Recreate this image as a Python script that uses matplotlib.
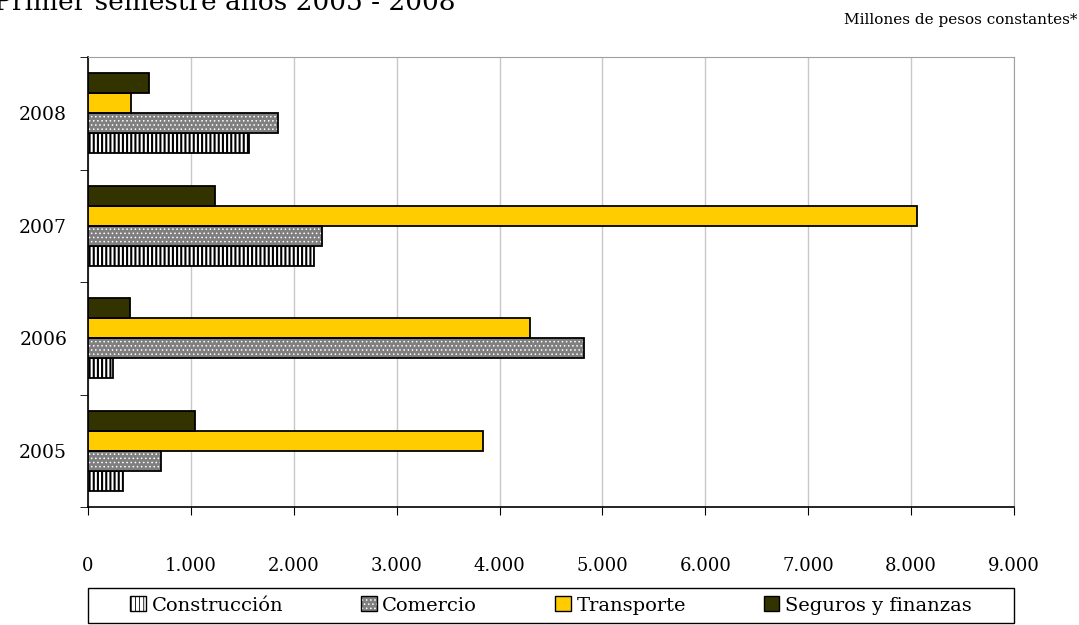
import numpy as np
import matplotlib
matplotlib.use("Agg")
import matplotlib.pyplot as plt
from matplotlib.patches import Patch
from matplotlib.legend_handler import HandlerTuple

plt.rcParams['font.family'] = ['DejaVu Serif']

years = ['2005', '2006', '2007', '2008']
series = ['Construcción', 'Comercio', 'Transporte', 'Seguros y finanzas']
construccion = [340, 245, 2195, 1560]
comercio = [710, 4820, 2275, 1850]
transporte = [3835, 4295, 8055, 418]
seguros = [1040, 408, 1234, 593]

fig = plt.figure(figsize=(10.79, 6.25), dpi=100)
ax = fig.add_axes([88 / 1079, 1 - 507 / 625, (1014 - 88) / 1079, (507 - 57) / 625])

y = np.arange(len(years))
h = 0.178
offs = [-1.5 * h, -0.5 * h, 0.5 * h, 1.5 * h]
grey = '#7f7f7f'

# construccion: vertical lines
plt.rcParams['hatch.linewidth'] = 1.5
ax.barh(y + offs[0], construccion, h, color='white', edgecolor='black', hatch='||||', lw=1.3, zorder=3)
h_con = Patch(facecolor='white', edgecolor='black', hatch='||||')
# comercio: grey with small white dots, then black outline
plt.rcParams['hatch.linewidth'] = 0.6
ax.barh(y + offs[1], comercio, h, color=grey, edgecolor='white', hatch='....', lw=0, zorder=3)
h_com = Patch(facecolor=grey, edgecolor='white', hatch='....', lw=0)
ax.barh(y + offs[1], comercio, h, fill=False, edgecolor='black', lw=1.3, zorder=4)
ax.barh(y + offs[2], transporte, h, color='#ffcc00', edgecolor='black', lw=1.3, zorder=3)
ax.barh(y + offs[3], seguros, h, color='#333300', edgecolor='black', lw=1.3, zorder=3)

ax.set_xlim(0, 9000)
ax.set_ylim(-0.5, 3.5)
ax.set_xticks(np.arange(0, 9001, 1000))
ax.set_xticklabels([f'{v:,}'.replace(',', '.') for v in range(0, 9001, 1000)], fontsize=13)
ax.set_yticks(y)
ax.set_yticklabels(years, fontsize=13.5)
ax.set_yticks(np.arange(-0.5, 3.6, 1), minor=True)
ax.tick_params(axis='y', which='major', length=0, pad=15)
ax.tick_params(axis='y', which='minor', length=6, direction='out')
ax.tick_params(axis='x', length=6, direction='out', pad=30)
ax.grid(axis='x', color='#c8c8c8', lw=1, zorder=0)
ax.spines['top'].set_color('#a0a0a0')
ax.spines['right'].set_color('#a0a0a0')
for s in ['left', 'bottom']:
    ax.spines[s].set_linewidth(1.2)

handles = [
    h_con,
    (h_com, Patch(fill=False, edgecolor='black')),
    Patch(facecolor='#ffcc00', edgecolor='black'),
    Patch(facecolor='#333300', edgecolor='black'),
]
leg = fig.legend(handles, series, loc='center', ncol=4, fontsize=14,
                 bbox_to_anchor=(88 / 1079, 1 - 623 / 625, (1014 - 88) / 1079, 35 / 625),
                 frameon=False,
                 handler_map={tuple: HandlerTuple(ndivide=1)},
                 handlelength=0.8, handleheight=0.8, handletextpad=0.3,
                 columnspacing=4.0, borderaxespad=0)
# legend frame spanning the plot width
fig.patches.append(plt.Rectangle((88 / 1079, 2 / 625), (1014 - 88) / 1079, 35 / 625,
                                 transform=fig.transFigure, fill=False,
                                 edgecolor='black', lw=1.0))

fig.text(1077 / 1079, 1 - 20 / 625, 'Millones de pesos constantes*', ha='right', va='center', fontsize=11)
fig.text(-6 / 1079, 1 - 10 / 625, 'Primer semestre años 2005 - 2008', ha='left', va='baseline', fontsize=19)

fig.savefig('out.png', dpi=100)
